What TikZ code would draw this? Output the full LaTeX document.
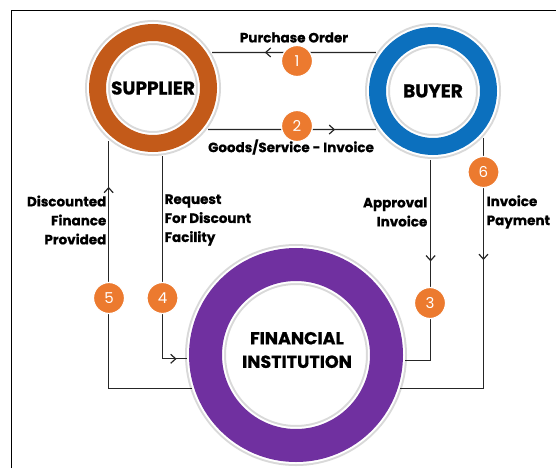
\documentclass[tikz,border=0pt]{standalone}
\usepackage{fontspec}
\setmainfont{Poppins}[BoldFont={Poppins Bold}, BoldFeatures={FakeBold=0.8}]
\usetikzlibrary{arrows.meta, decorations.markings}
\definecolor{supplierorange}{RGB}{195,90,25}
\definecolor{buyerblue}{RGB}{12,112,190}
\definecolor{finpurple}{RGB}{112,48,160}
\definecolor{badgeorange}{RGB}{236,122,47}
\begin{document}
\begin{tikzpicture}[x=1pt, y=-1pt,
            ring/.style={circle, draw=#1, line width=17pt, minimum size=111pt,
            inner sep=0pt, outer sep=13.5pt, font=\bfseries\fontsize{18.5}{18.5}\selectfont,
            preaction={draw=black!15, line width=25pt},
            preaction={draw=white, line width=21pt}},
            bigring/.style={circle, draw=#1, line width=33pt, minimum size=181pt,
            inner sep=0pt, outer sep=18.5pt,
            preaction={draw=black!15, line width=41pt},
            preaction={draw=white, line width=37pt}},
            badge/.style={circle, fill=badgeorange, draw=white, line width=1.2pt,
            minimum size=31pt, inner sep=0pt, text=white, font=\fontsize{15}{15}\selectfont},
            flowtext/.style={inner sep=0pt, font=\bfseries\fontsize{13.5}{19}\selectfont},
            link/.style={draw=black!85, line width=1.2pt},
            midarrow/.style={postaction={decorate}, decoration={markings,
            mark=at position #1 with {\arrow{Straight Barb[length=5pt, width=9pt]}}}}
        ]
            \useasboundingbox (0,0) rectangle (556,468);
            \draw [line width=1.5pt] (11.5,468) -- (11.5,10.5) -- (556,10.5);

            \node (supplier) [ring=supplierorange] at (153,88) {SUPPLIER};
            \node (buyer) [ring=buyerblue] at (433,91) {BUYER};
            \node (fin) [bigring=finpurple] at (296,355) {};
            \node (fintext) [align=center, font=\bfseries\fontsize{17.5}{23.5}\selectfont] at (297,350) {FINANCIAL\\INSTITUTION};

            \draw [link, midarrow=111pt] (buyer.146) -- (supplier.31);
            \draw [link, midarrow=127pt] (supplier.-37) -- (buyer.214);
            \draw [link, midarrow=-46pt] (fin.198) -| (supplier.-130);
            \draw [link, midarrow=-10.5pt] (supplier.-82) |- (fin.182);
            \draw [link, midarrow=101.5pt] (buyer.-92) |- (fin.-3);
            \draw [link, midarrow=122pt] (buyer.-43) |- (fin.-18);

            \node (n1) [badge] at (297,61) {1};
            \node (n2) [badge] at (297,126) {2};
            \node (n3) [badge] at (430,303) {3};
            \node (n4) [badge] at (162.5,298) {4};
            \node (n5) [badge] at (109,298) {5};
            \node (n6) [badge] at (483.5,172) {6};

            \node (po) [flowtext] at (294,37.5) {Purchase Order};
            \node (goods) [flowtext] at (291,147) {Goods/Service - Invoice};
            \node (discount) [flowtext, align=right, anchor=east] at (106.5,220) {Discounted\\Finance\\Provided};
            \node (request) [flowtext, align=left, anchor=west] at (164.5,220) {Request\\For Discount\\Facility};
            \node (approval) [flowtext, align=right, anchor=east] at (427.5,212) {Approval\\Invoice};
            \node (payment) [flowtext, align=left, anchor=west] at (486.5,212) {Invoice\\Payment};
        \end{tikzpicture}
\end{document}
